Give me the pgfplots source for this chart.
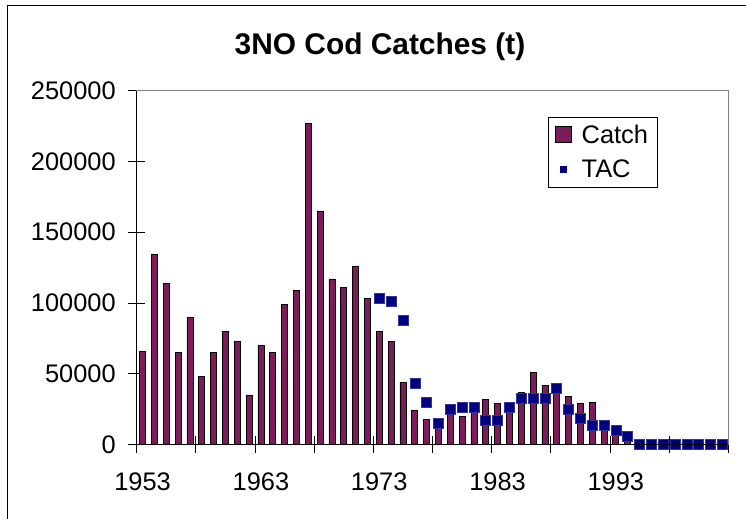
\documentclass[border=0pt]{standalone}
\usepackage{pgfplots}
\pgfplotsset{compat=1.18}
\usepackage{pgfplotstable}
\usepackage{fontspec}
\setmainfont{Liberation Sans}
\definecolor{catchc}{RGB}{125,28,90}
\definecolor{tacc}{RGB}{0,0,128}
\definecolor{framec}{RGB}{128,128,128}

\pgfplotstableread{
year catch
1953 66000
1954 134000
1955 114000
1956 65000
1957 90000
1958 48000
1959 65000
1960 80000
1961 73000
1962 35000
1963 70000
1964 65000
1965 99000
1966 109000
1967 227000
1968 165000
1969 117000
1970 111000
1971 126000
1972 103000
1973 80000
1974 73000
1975 44000
1976 24000
1977 18000
1978 14000
1979 23000
1980 20000
1981 24000
1982 32000
1983 29000
1984 27000
1985 37000
1986 51000
1987 42000
1988 43000
1989 34000
1990 29000
1991 30000
1992 12000
1993 9000
1994 3000
1995 200
1996 200
1997 400
1998 900
1999 1200
2000 1600
2001 1200
2002 1000
}\catchdata

\pgfplotstableread{
year tac
1973 103000
1974 101000
1975 88000
1976 43000
1977 30000
1978 15000
1979 25000
1980 26000
1981 26000
1982 17000
1983 17000
1984 26000
1985 33000
1986 33000
1987 33000
1988 40000
1989 25000
1990 18600
1991 13600
1992 13600
1993 10200
1994 6000
1995 0
1996 0
1997 0
1998 0
1999 0
2000 0
2001 0
2002 0
}\tacdata

\begin{document}
\begin{tikzpicture}
\useasboundingbox (-136.7bp,-74.5bp) rectangle (609.3bp,444.5bp);
\draw[black, line width=1bp] (-128.7bp,-80bp) -- (-128.7bp,438.5bp) -- (615bp,438.5bp);
\node[font=\fontsize{30}{34}\selectfont\bfseries] at (243.3bp,397.5bp) {3NO Cod Catches (t)};
\begin{axis}[
  at={(0,0)}, anchor=south west,
  scale only axis,
  width=591.6bp, height=353.8bp,
  xmin=1952.5, xmax=2002.5,
  ymin=0, ymax=250000,
  scaled y ticks=false,
  xtick={1952.5,1957.5,...,2002.5},
  xticklabels={1953,,1963,,1973,,1983,,1993,,},
  x tick label style={xshift=5.9bp, yshift=-16bp},
  y tick label style={xshift=-9bp},
  ytick={0,50000,100000,150000,200000,250000},
  yticklabels={0,50000,100000,150000,200000,250000},
  tick label style={font=\fontsize{25.5}{29}\selectfont, black},
  xtick pos=bottom, ytick pos=left,
  tick align=center,
  major tick length=17bp,
  tick style={black, line width=0.9bp},
  axis line style={draw=framec, line width=1bp},
  after end axis/.code={
    \draw[black, line width=1bp] (rel axis cs:0,1) -- (rel axis cs:0,0) -- (rel axis cs:1,0);
  },
  legend style={
    at={(0.695,0.927)}, anchor=north west,
    draw=black, line width=0.8bp,
    font=\fontsize{25.5}{29}\selectfont,
    inner xsep=7bp, inner ysep=6bp,
    row sep=11bp,
    legend cell align=left,
  },
]
\addplot[ybar, bar width=6bp, bar shift=0pt, fill=catchc, draw=black, line width=0.8bp,
  legend image code/.code={\path[draw=none, fill=none] (0bp,-8bp) rectangle (24bp,8bp);
    \draw[fill=catchc, draw=black, line width=0.8bp] (0bp,-8bp) rectangle (16bp,8bp);}]
  table[x=year, y=catch] {\catchdata};
\addlegendentry{Catch}
\addplot[only marks, mark=square*, mark size=5bp, mark options={fill=tacc, draw=tacc!80!white, line width=0.5bp},
  legend image code/.code={\path[draw=none, fill=none] (0bp,-8bp) rectangle (24bp,8bp);
    \fill[tacc, draw=none] (4.5bp,-3.5bp) rectangle (11.5bp,3.5bp);}]
  table[x=year, y=tac] {\tacdata};
\addlegendentry{TAC}
\end{axis}
\end{tikzpicture}
\end{document}
